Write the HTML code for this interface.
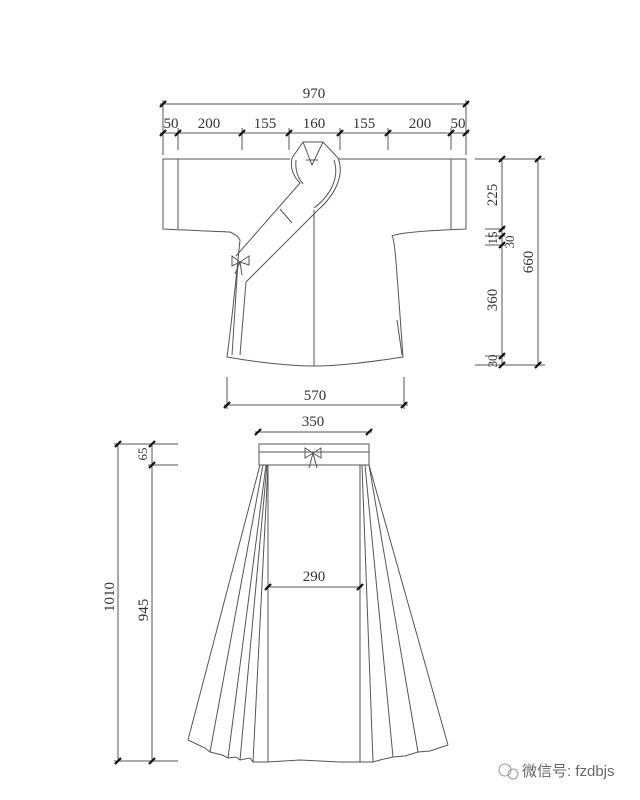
<!DOCTYPE html>
<html><head><meta charset="utf-8"><style>
html,body{margin:0;padding:0;background:#fff;}
svg{display:block}
text{font-family:"Liberation Serif",serif;font-size:15px;fill:#333;}
</style></head><body>
<svg width="640" height="800" viewBox="0 0 640 800" xmlns="http://www.w3.org/2000/svg">
<g stroke="#555" stroke-width="1" fill="none">
<!-- top dims -->
<line x1="160" y1="104" x2="469" y2="104"/>
<line x1="160" y1="133" x2="469" y2="133"/>
<line x1="163" y1="100" x2="163" y2="155"/>
<line x1="466" y1="100" x2="466" y2="155"/>
<line x1="178" y1="128" x2="178" y2="150"/>
<line x1="242" y1="128" x2="242" y2="150"/>
<line x1="289" y1="128" x2="289" y2="150"/>
<line x1="340" y1="128" x2="340" y2="150"/>
<line x1="388" y1="128" x2="388" y2="150"/>
<line x1="451" y1="128" x2="451" y2="150"/>
<!-- jacket -->
<path d="M290 159 L163 159 L163 229 C180 230 210 231 230 232 C232 233 238 235 240 240 C238 260 232 320 227 357 C255 362 290 366 314 366 C340 366 370 362 403 357 C396 260 395 240 392 236 C400 232 440 230 466 229 L466 159 L338 159"/>
<line x1="178" y1="159" x2="178" y2="229"/>
<line x1="451" y1="159" x2="451" y2="229"/>
<line x1="314" y1="210" x2="314" y2="366"/>
<!-- collar -->
<path d="M303 142 L323 142 L338 158 C345 175 335 195 318 210 L246 282"/>
<path d="M303 142 L292 158 C290 168 293 176 300 183 L236 256"/>
<path d="M303 142 L312 165 L323 142"/>
<path d="M306 160 L318 160"/>
<path d="M296 160 C295 170 298 178 303 184 M334 160 C340 178 330 196 314 208"/>
<path d="M280 209 L292 223"/>
<path d="M238 262 L232 355 M246 282 L240 355"/>
<path d="M397 320 L402 355"/>
<!-- bow -->
<path d="M240 262 l-8 -6 l0 10 z M240 262 l9 -6 l0 9 z M240 262 l-5 12 M240 262 l2 13"/>
<!-- right dims -->
<line x1="475" y1="159" x2="545" y2="159"/>
<line x1="475" y1="365" x2="545" y2="365"/>
<line x1="485" y1="229" x2="505" y2="229"/>
<line x1="485" y1="236" x2="505" y2="236"/>
<line x1="485" y1="245" x2="505" y2="245"/>
<line x1="485" y1="356" x2="505" y2="356"/>
<line x1="502" y1="159" x2="502" y2="365"/>
<line x1="538" y1="159" x2="538" y2="365"/>
<!-- 570 -->
<line x1="227" y1="377" x2="227" y2="409"/>
<line x1="404" y1="377" x2="404" y2="409"/>
<line x1="224" y1="405" x2="408" y2="405"/>
<!-- skirt -->
<line x1="255" y1="432" x2="372" y2="432"/>
<rect x="259" y="444" width="110" height="21"/>
<line x1="259" y1="452" x2="369" y2="452"/>
<path d="M313 453 l-8 -5 l0 10 z M313 453 l8 -5 l0 10 z M313 453 l-4 15 M313 453 l4 15"/>
<path d="M268 465 L268 762 M360 465 L360 762"/>
<path d="M260 465 L188 740 M263 465 L210 752 M266 465 L228 758 M267 465 L240 760 M268 465 L253 762"/>
<path d="M362 465 L373 762 M365 465 L393 757 M369 465 L418 752 M369 465 L448 745"/>
<path d="M188 740 L205 748 L210 752 L222 755 L228 758 L236 757 L240 760 L250 758 L253 762 L268 762 L300 760 L340 762 L360 762 L373 762 L380 760 L393 757 L405 756 L418 752 L430 751 L448 745"/>
<line x1="266" y1="587" x2="362" y2="587"/>
<!-- left dims -->
<line x1="114" y1="444" x2="178" y2="444"/>
<line x1="148" y1="465" x2="178" y2="465"/>
<line x1="114" y1="761" x2="178" y2="761"/>
<line x1="118" y1="444" x2="118" y2="761"/>
<line x1="152" y1="444" x2="152" y2="761"/>
</g>
<!-- ticks -->
<g stroke="#111" stroke-width="2.2">
<path d="M160 107l6-6M463 107l6-6M160 136l6-6M175 136l6-6M239 136l6-6M286 136l6-6M337 136l6-6M385 136l6-6M448 136l6-6M463 136l6-6"/>
<path d="M499 162l6-6M535 162l6-6M499 232l6-6M499 239l6-6M499 248l6-6M499 359l6-6M499 368l6-6M535 368l6-6"/>
<path d="M224 408l6-6M401 408l6-6M255 435l6-6M366 435l6-6M265 590l6-6M357 590l6-6"/>
<path d="M115 447l6-6M149 447l6-6M149 468l6-6M115 764l6-6M149 764l6-6"/>
</g>
<g text-anchor="middle">
<text x="314" y="98">970</text>
<text x="171" y="128">50</text><text x="209" y="128">200</text><text x="265" y="128">155</text><text x="314" y="128">160</text><text x="364" y="128">155</text><text x="420" y="128">200</text><text x="458" y="128">50</text>
<text x="315" y="400">570</text>
<text x="313" y="426">350</text>
<text x="314" y="581">290</text>
<text transform="translate(497,195) rotate(-90)">225</text>
<text transform="translate(497,238) rotate(-90)" style="font-size:13px">15</text>
<text transform="translate(514,242) rotate(-90)" style="font-size:13px">30</text>
<text transform="translate(497,300) rotate(-90)">360</text>
<text transform="translate(497,361) rotate(-90)" style="font-size:13px">30</text>
<text transform="translate(533,262) rotate(-90)">660</text>
<text transform="translate(147,454) rotate(-90)" style="font-size:13px">65</text>
<text transform="translate(148,610) rotate(-90)">945</text>
<text transform="translate(114,597) rotate(-90)">1010</text>
</g>
<circle cx="505" cy="770" r="6" fill="none" stroke="#999"/>
<circle cx="513" cy="774" r="5" fill="none" stroke="#999"/>
<text x="522" y="776" style='font-family:"Liberation Sans","Noto Sans CJK SC",sans-serif;font-size:15px;fill:#666'>微信号: fzdbjs</text>
</svg>
</body></html>
